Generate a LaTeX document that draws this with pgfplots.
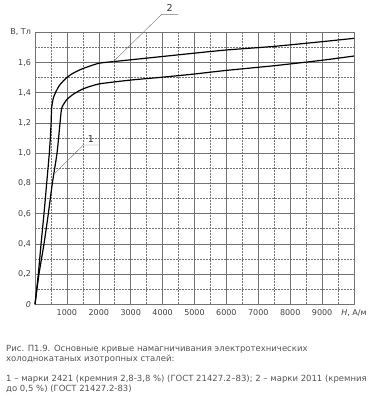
\documentclass[border=0pt]{standalone}
\usepackage{fontspec}
\setmainfont{DejaVu Sans}
\usepackage{pgfplots}
\pgfplotsset{compat=1.18}
\definecolor{gridc}{gray}{0.45}
\definecolor{capc}{gray}{0.33}
\begin{document}
\begin{tikzpicture}[x=1pt,y=1pt]
\useasboundingbox (0,0) rectangle (376,400);
\begin{axis}[
  at={(35pt,95.7pt)}, anchor=south west,
  scale only axis, width=319pt, height=272pt,
  xmin=0, xmax=10000, ymin=0, ymax=1.8,
  clip=false,
  scaled x ticks=false, scaled y ticks=false,
  axis line style={draw=gridc, line width=0.6pt},
  xtick={1000,2000,3000,4000,5000,6000,7000,8000,9000,10000},
  xticklabels={1000,2000,3000,4000,5000,6000,7000,8000,9000,{\textit{H}, А/м}},
  ytick={0,0.2,0.4,0.6,0.8,1.0,1.2,1.4,1.6,1.8},
  yticklabels={\textit{0},{0,2},{0,4},{0,6},{0,8},{1,0},{1,2},{1,4},{1,6},{B, Тл}},
  minor xtick={500,1500,...,9500},
  minor ytick={0.1,0.3,...,1.7},
  major tick length=0pt, minor tick length=0pt,
  grid=both,
  major grid style={draw=gridc, line width=0.55pt},
  minor grid style={draw=gridc, line width=0.55pt, dash pattern=on 2pt off 1pt},
  tick label style={font=\fontsize{8}{9}\selectfont, text=black!75},
  xticklabel style={yshift=-2pt},
  yticklabel style={xshift=-0.5pt},
]
% curve 2 (upper)
\addplot[black, line width=1.2pt, smooth, tension=0.35] coordinates {
(0,0) (104,0.2) (190,0.4) (282,0.6) (366,0.8) (449,1.0) (480,1.1) (505,1.2) (522,1.3)
(570,1.36) (640,1.4) (770,1.45) (993,1.5) (1200,1.53) (1500,1.56) (2000,1.595)
(2500,1.607) (3000,1.618) (4000,1.64) (5000,1.662) (6000,1.683) (7500,1.707) (9000,1.738) (10000,1.76)};
% curve 1 (lower)
\addplot[black, line width=1.2pt, smooth, tension=0.35] coordinates {
(0,0) (125,0.2) (282,0.4) (418,0.6) (543,0.8) (690,1.0) (785,1.2) (840,1.3)
(1000,1.355) (1200,1.39) (1500,1.425) (2000,1.458) (3000,1.484) (4000,1.503) (5000,1.524)
(6000,1.548) (7500,1.579) (9000,1.615) (10000,1.643)};
% leaders
\draw[gridc, line width=0.4pt] (axis cs:587,0.86) -- (axis cs:1514,1.054) -- (axis cs:2016,1.054);
\node[font=\fontsize{9.5}{10}\selectfont, text=black!80, anchor=base] at (axis cs:1750,1.07) {1};
\draw[gridc, line width=0.4pt] (axis cs:2455,1.606) -- (axis cs:3972,1.919) -- (axis cs:4492,1.919);
\node[font=\fontsize{9.5}{10}\selectfont, text=black!80, anchor=base] at (axis cs:4220,1.935) {2};
\end{axis}
\begin{scope}[font=\fontsize{8.5}{10}\selectfont, text=capc]
\node[anchor=base west, inner sep=0pt] at (6,48.5) {Рис. П1.9. Основные кривые намагничивания электротехнических};
\node[anchor=base west, inner sep=0pt] at (6,38.5) {холоднокатаных изотропных сталей:};
\node[anchor=base west, inner sep=0pt] at (6,19) {1 – марки 2421 (кремния 2,8-3,8 \%) (ГОСТ 21427.2–83); 2 – марки 2011 (кремния};
\node[anchor=base west, inner sep=0pt] at (6,9) {до 0,5 \%) (ГОСТ 21427.2-83)};
\end{scope}
\end{tikzpicture}
\end{document}
